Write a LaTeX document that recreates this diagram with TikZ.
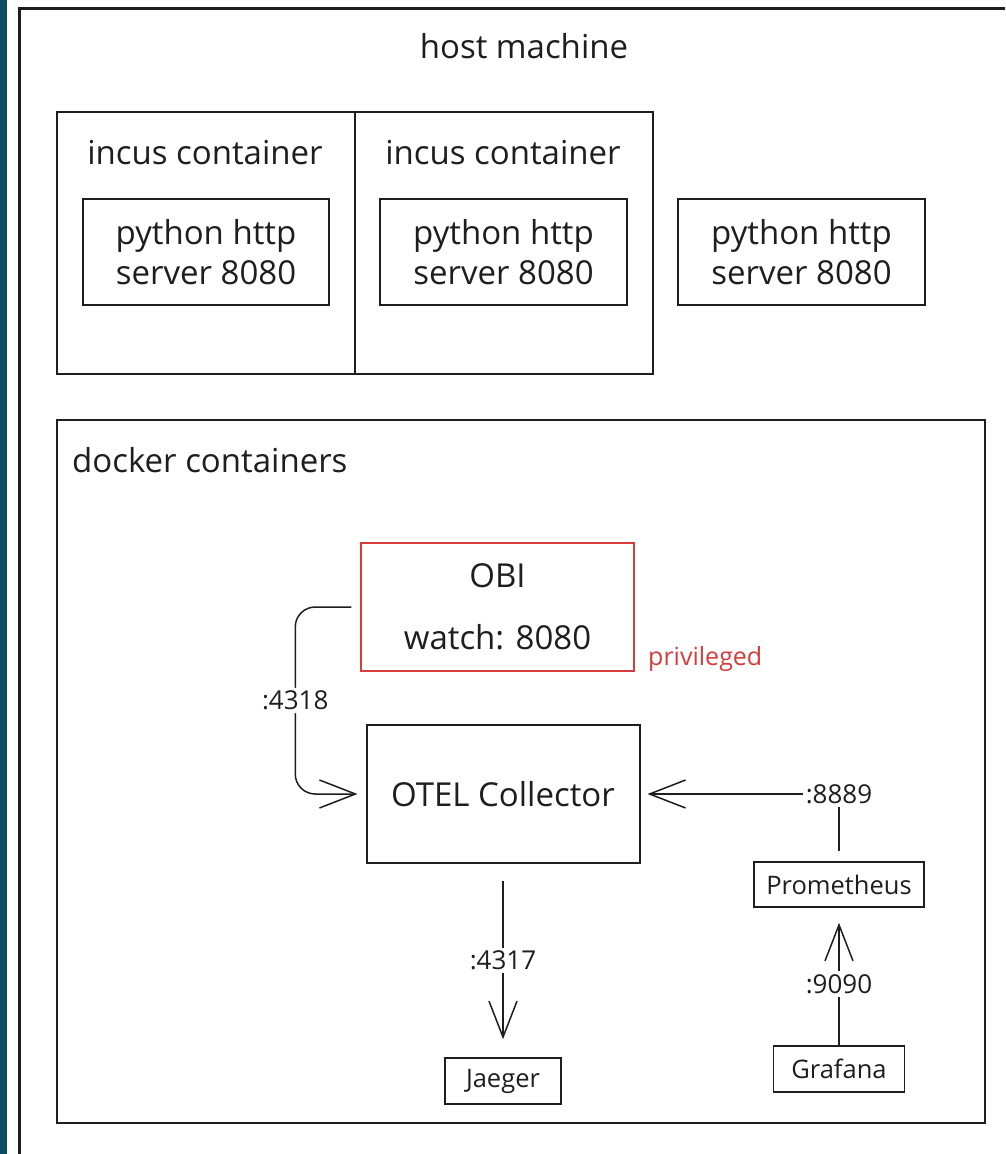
\documentclass[tikz,border=0pt]{standalone}
\usepackage{fontspec}
\setmainfont{Open Sans}
\usepackage{tikz}
\usetikzlibrary{arrows.meta,positioning}
\usepackage{xcolor}
\definecolor{inkdark}{RGB}{30,30,30}
\definecolor{obired}{RGB}{214,60,60}
\definecolor{frameteal}{RGB}{10,78,100}
\tikzstyle{container} = [rectangle, draw=inkdark, line width=2pt, inner sep=0pt]
\tikzstyle{service} = [rectangle, draw=inkdark, line width=2pt, align=center, inner sep=0pt, text=inkdark, font=\fontsize{33}{40}\selectfont]
\tikzstyle{smallbox} = [rectangle, draw=inkdark, line width=1.6pt, inner sep=0pt, text=inkdark, font=\fontsize{25.5}{30}\selectfont]
\tikzstyle{heading} = [inner sep=0pt, text=inkdark, font=\fontsize{33}{40}\selectfont]
\tikzstyle{port} = [fill=white, inner sep=3pt, text=inkdark, font=\fontsize{26}{30}\selectfont]
\tikzstyle{arrow} = [line width=1.5pt, draw=inkdark, -{Straight Barb[length=36pt,width=28pt]}]

\begin{document}
\begin{tikzpicture}[x=1pt, y=-1pt]
\useasboundingbox (0,0) rectangle (1005,1154);
\clip (0,0) rectangle (1005,1154);
\fill[white] (0,0) rectangle (1005,1154);
\fill[frameteal] (0,0) rectangle (7,1154);

% Host machine
\node[container, line width=3pt, minimum width=1020pt, minimum height=1180pt, anchor=north west] (host) at (18,7) {};
\node[heading] (hostlbl) at (524,46) {host machine};

% Incus containers and python servers
\node[container, minimum width=298pt, minimum height=262pt] (incusA) at (206,243) {};
\node[container, minimum width=298pt, minimum height=262pt] (incusB) at (504,243) {};
\node[heading] (incusAlbl) at (205,153) {incus container};
\node[heading] (incusBlbl) at (503,153) {incus container};
\node[service, minimum width=246pt, minimum height=106pt] (pyA) at (206,252) {python http\\server 8080};
\node[service, minimum width=247pt, minimum height=106pt] (pyB) at (503.5,252) {python http\\server 8080};
\node[service, minimum width=247pt, minimum height=106pt] (pyC) at (801.5,252) {python http\\server 8080};

% Docker containers
\node[container, line width=2.4pt, minimum width=928pt, minimum height=703pt] (docker) at (521,771.5) {};
\node[heading, anchor=west] (dockerlbl) at (72,460) {docker containers};

\node[service, draw=obired, line width=1.5pt, minimum width=273pt, minimum height=128pt] (obi) at (497.5,607) {OBI\\[22pt]watch: 8080};
\node[inner sep=0pt, anchor=west, text=obired, font=\fontsize{25}{30}\selectfont] (privlbl) at (648,659) {privileged};
\node[service, minimum width=273pt, minimum height=138pt] (otel) at (503,794) {OTEL Collector};
\node[smallbox, minimum width=170pt, minimum height=45pt] (prom) at (839,884.5) {Prometheus};
\node[smallbox, minimum width=131pt, minimum height=46pt] (grafana) at (839,1069) {Grafana};
\node[smallbox, minimum width=116pt, minimum height=46pt] (jaeger) at (503,1081) {Jaeger};

\draw[arrow, rounded corners=20pt] ([xshift=-9pt]obi.west) -- ++(-56,0) |- ([xshift=-8pt]otel.west) node[port, pos=0.25] {:4318};
\draw[arrow] ([yshift=10pt]prom.north) |- ([xshift=7pt]otel.east) node[port, pos=0.5] {:8889};
\draw[arrow] ([yshift=-17pt]otel.south) -- ([yshift=18pt]jaeger.north) node[port, midway] {:4317};
\draw[arrow] (grafana.north) -- ([yshift=-15pt]prom.south) node[port, midway] {:9090};
\end{tikzpicture}
\end{document}
